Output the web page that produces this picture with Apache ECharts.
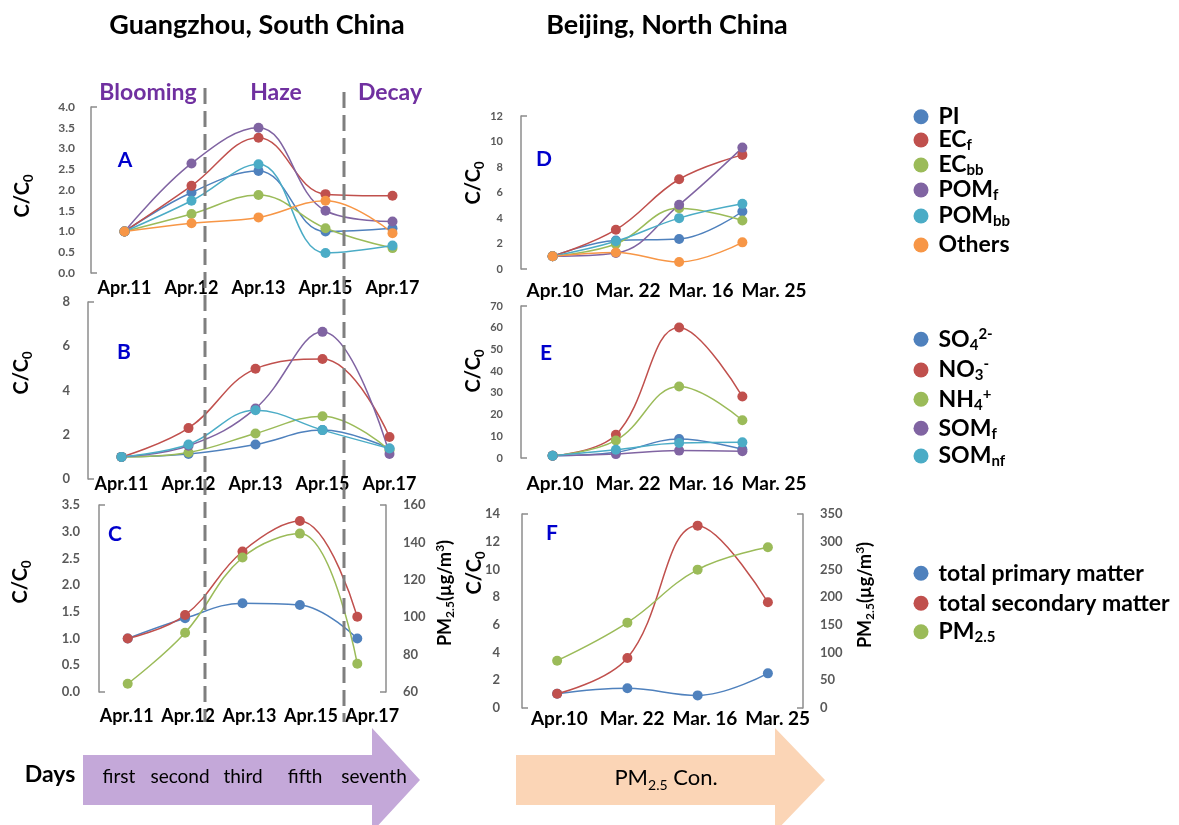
<!DOCTYPE html>
<html><head><meta charset="utf-8">
<script src="https://cdn.jsdelivr.net/npm/echarts@6/dist/echarts.min.js"></script>
<style>html,body{margin:0;padding:0;background:#fff}#c{width:1179px;height:825px}</style>
</head><body><div id="c"></div><script>
// ---------- categories ----------
const catsGZ = ['Apr.11', 'Apr.12', 'Apr.13', 'Apr.15', 'Apr.17'];
const catsBJ = ['Apr.10', 'Mar. 22', 'Mar. 16', 'Mar. 25'];
const dayWords = ['first', 'second', 'third', 'fifth', 'seventh'];

// ---------- Panel A (Guangzhou, primary components, C/C0) ----------
const aPI     = [1.0, 1.94, 2.46, 1.00, 1.08];
const aECf    = [1.0, 2.10, 3.26, 1.90, 1.86];
const aECbb   = [1.0, 1.42, 1.88, 1.08, 0.60];
const aPOMf   = [1.0, 2.64, 3.50, 1.50, 1.24];
const aPOMbb  = [1.0, 1.74, 2.62, 0.48, 0.66];
const aOthers = [1.0, 1.20, 1.34, 1.74, 0.96];

// ---------- Panel B (Guangzhou, secondary components) ----------
const bSO4   = [1.0, 1.13, 1.56, 2.21, 1.38];
const bNO3   = [1.0, 2.30, 4.98, 5.42, 1.90];
const bNH4   = [1.0, 1.20, 2.06, 2.84, 1.30];
const bSOMf  = [1.0, 1.50, 3.19, 6.65, 1.13];
const bSOMnf = [1.0, 1.56, 3.11, 2.21, 1.38];

// ---------- Panel C (Guangzhou totals; PM2.5 on right axis, ug/m3) ----------
const cPrimary   = [1.0, 1.38, 1.66, 1.63, 1.00];
const cSecondary = [1.0, 1.44, 2.63, 3.20, 1.41];
const cPM25      = [64.4, 91.7, 131.9, 144.7, 75.1];

// ---------- Panel D (Beijing, primary components) ----------
const dPI     = [1.0, 2.24, 2.35, 4.51];
const dECf    = [1.0, 3.08, 7.04, 8.95];
const dECbb   = [1.0, 1.96, 4.77, 3.81];
const dPOMf   = [1.0, 1.25, 5.03, 9.52];
const dPOMbb  = [1.0, 2.17, 3.99, 5.11];
const dOthers = [1.0, 1.30, 0.55, 2.09];

// ---------- Panel E (Beijing, secondary components) ----------
const eSO4   = [1.0, 2.6, 8.7, 4.0];
const eNO3   = [1.0, 10.7, 60.1, 28.3];
const eNH4   = [1.0, 8.1, 32.9, 17.4];
const eSOMf  = [1.0, 1.8, 3.4, 3.1];
const eSOMnf = [1.0, 3.8, 6.9, 7.2];

// ---------- Panel F (Beijing totals; PM2.5 on right axis) ----------
const fPrimary   = [1.03, 1.42, 0.91, 2.50];
const fSecondary = [1.03, 3.61, 13.16, 7.63];
const fPM25      = [85.4, 154.0, 249.6, 289.9];

// ---------- legend entries ----------
const legendNames = ['PI','ECf','ECbb','POMf','POMbb','Others',
  'SO42-','NO3-','NH4+','SOMf','SOMnf',
  'total primary matter','total secondary matter','PM2.5'];

// ---------- styling / layout ----------
const FONT = 'Lato, "Open Sans", sans-serif';
const C = {blue:'#4F81BD', red:'#C0504D', green:'#9BBB59', purple:'#8064A2', cyan:'#4BACC6', orange:'#F79646'};
const AXIS_GRAY = '#8c8c8c';
const legendCenterY = [116.7, 140, 165, 190, 216, 245, 339.3, 370, 399.3, 428.3, 456, 573.3, 603.3, 631.7];

const grids = [
  {left:91,  top:107, width:335, height:166}, // 0 A
  {left:88,  top:302, width:335, height:177}, // 1 B
  {left:99,  top:505, width:287, height:187}, // 2 C
  {left:521, top:116, width:253, height:153}, // 3 D
  {left:521, top:306, width:253, height:152}, // 4 E
  {left:522, top:514, width:281, height:194}, // 5 F
  {left:96,  top:505, width:307, height:187}, // 6 C label row
  {left:518.5, top:116, width:292, height:153}, // 7 D label row
  {left:518.5, top:306, width:292, height:152}, // 8 E label row
  {left:523, top:514, width:291, height:194}  // 9 F label row
].map(g => Object.assign({containLabel:false, outerBoundsMode:'none'}, g));

function xAx(gi, cats, margin, fs, showLabel) {
  return {type:'category', gridIndex:gi, data:cats, boundaryGap:true,
    axisLine:{show:false}, axisTick:{show:false}, splitLine:{show:false},
    axisLabel:{show:showLabel !== false, interval:0, margin:margin, color:'#000', fontWeight:'bold', fontSize:fs, fontFamily:FONT}};
}
function yAx(gi, min, max, step, margin, fs, dec, pos) {
  return {type:'value', gridIndex:gi, min:min, max:max, interval:step, position:pos || 'left',
    splitLine:{show:false},
    axisLine:{show:true, lineStyle:{color:AXIS_GRAY, width:1.5}},
    axisTick:{show:true, inside:true, length:6, customValues:[min, max], lineStyle:{color:AXIS_GRAY, width:1.5}},
    axisLabel:{margin:margin, color:'#595959', fontWeight:'bold', fontSize:fs, fontFamily:FONT,
      formatter: v => dec ? v.toFixed(dec) : String(v)}};
}
function yHidden(gi) { return {type:'value', gridIndex:gi, show:false, min:0, max:1}; }

const xAxis = [
  xAx(0, catsGZ, 6, 18),
  xAx(1, catsGZ, -4, 18),
  xAx(2, catsGZ, 15, 18, false),
  xAx(3, catsBJ, 12, 19, false),
  xAx(4, catsBJ, 16, 19, false),
  xAx(5, catsBJ, 1, 19, false),
  xAx(6, catsGZ, 15, 18),
  xAx(7, catsBJ, 12, 19),
  xAx(8, catsBJ, 16, 19),
  xAx(9, catsBJ, 1, 19)
];
const yAxis = [
  yAx(0, 0, 4, 0.5, 16, 12, 1),
  yAx(1, 0, 8, 2, 18, 13, 0),
  yAx(2, 0, 3.5, 0.5, 19, 13, 1),
  yAx(2, 60, 160, 20, 17, 13, 0, 'right'),
  yAx(3, 0, 12, 2, 18, 11, 0),
  yAx(4, 0, 70, 10, 18, 11, 0),
  yAx(5, 0, 14, 2, 22, 13, 0),
  yAx(5, 0, 350, 50, 17, 13, 0, 'right'),
  yHidden(6), yHidden(7), yHidden(8), yHidden(9)
];

function ln(name, data, color, xi, yi) {
  return {type:'line', name:name, data:data, xAxisIndex:xi, yAxisIndex:yi,
    smooth:0.4, symbol:'circle', symbolSize:10, showSymbol:true,
    itemStyle:{color:color}, lineStyle:{color:color, width:1.5},
    emphasis:{disabled:true}, animation:false};
}

const series = [
  ln('PI', aPI, C.blue, 0, 0), ln('ECf', aECf, C.red, 0, 0), ln('ECbb', aECbb, C.green, 0, 0),
  ln('POMf', aPOMf, C.purple, 0, 0), ln('POMbb', aPOMbb, C.cyan, 0, 0), ln('Others', aOthers, C.orange, 0, 0),

  ln('SO42-', bSO4, C.blue, 1, 1), ln('NO3-', bNO3, C.red, 1, 1), ln('NH4+', bNH4, C.green, 1, 1),
  ln('SOMf', bSOMf, C.purple, 1, 1), ln('SOMnf', bSOMnf, C.cyan, 1, 1),

  ln('total primary matter', cPrimary, C.blue, 2, 2), ln('total secondary matter', cSecondary, C.red, 2, 2),
  ln('PM2.5', cPM25, C.green, 2, 3),

  ln('PI', dPI, C.blue, 3, 4), ln('ECf', dECf, C.red, 3, 4), ln('ECbb', dECbb, C.green, 3, 4),
  ln('POMf', dPOMf, C.purple, 3, 4), ln('POMbb', dPOMbb, C.cyan, 3, 4), ln('Others', dOthers, C.orange, 3, 4),

  ln('SO42-', eSO4, C.blue, 4, 5), ln('NO3-', eNO3, C.red, 4, 5), ln('NH4+', eNH4, C.green, 4, 5),
  ln('SOMf', eSOMf, C.purple, 4, 5), ln('SOMnf', eSOMnf, C.cyan, 4, 5),

  ln('total primary matter', fPrimary, C.blue, 5, 6), ln('total secondary matter', fSecondary, C.red, 5, 6),
  ln('PM2.5', fPM25, C.green, 5, 7)
];

// legend rich text
const legendFmt = {
  'PI':'{m|PI}', 'ECf':'{m|EC}{s|f}', 'ECbb':'{m|EC}{s|bb}', 'POMf':'{m|POM}{s|f}', 'POMbb':'{m|POM}{s|bb}', 'Others':'{m|Others}',
  'SO42-':'{m|SO}{s|4}{p|2-}', 'NO3-':'{m|NO}{s|3}{p|-}', 'NH4+':'{m|NH}{s|4}{p|+}', 'SOMf':'{m|SOM}{s|f}', 'SOMnf':'{m|SOM}{s|nf}',
  'total primary matter':'{m|total primary matter}', 'total secondary matter':'{m|total secondary matter}', 'PM2.5':'{m|PM}{s|2.5}'
};
const legRich = {
  g:{width:5, fontSize:10, lineHeight:26, verticalAlign:'middle'},
  m:{fontSize:23, fontWeight:'bold', color:'#000', fontFamily:FONT, lineHeight:26, verticalAlign:'middle'},
  s:{fontSize:15, fontWeight:'bold', color:'#000', fontFamily:FONT, lineHeight:10, verticalAlign:'bottom'},
  p:{fontSize:15, fontWeight:'bold', color:'#000', fontFamily:FONT, lineHeight:12, verticalAlign:'top'}
};
const legend = legendNames.map((n, i) => ({
  orient:'vertical', left:913.5, top:legendCenterY[i] - 13, icon:'circle', itemWidth:15, itemHeight:15,
  padding:0, itemGap:0, selectedMode:false, data:[n],
  formatter: nm => '{g| }' + legendFmt[nm],
  textStyle:{lineHeight:26, rich:legRich}
}));

// ---------- graphics: annotations ----------
function txt(x, y, text, fs, color, weight, extra) {
  return Object.assign({type:'text', x:x, y:y, silent:true,
    style:{text:text, fill:color, fontSize:fs, fontWeight:weight || 'bold', fontFamily:FONT, align:'center', verticalAlign:'middle'}}, extra || {});
}
function ccLabel(x, y) {
  return {type:'text', x:x, y:y, rotation:Math.PI/2, silent:true,
    style:{text:'{m|C/C}{s|0}', align:'center', verticalAlign:'middle',
      rich:{m:{fill:'#000', fontSize:20, fontWeight:'bold', fontFamily:FONT, lineHeight:24, verticalAlign:'middle'},
            s:{fill:'#000', fontSize:13, fontWeight:'bold', fontFamily:FONT, lineHeight:10, verticalAlign:'bottom'}}}};
}
function pmLabel(x, y) {
  return {type:'text', x:x, y:y, rotation:Math.PI/2, silent:true,
    style:{text:'{m|PM}{s|2.5}{m|(µg/m}{p|3}{m|)}', align:'center', verticalAlign:'middle',
      rich:{m:{fill:'#000', fontSize:18, fontWeight:'bold', fontFamily:FONT, lineHeight:22, verticalAlign:'middle'},
            s:{fill:'#000', fontSize:12, fontWeight:'bold', fontFamily:FONT, lineHeight:9, verticalAlign:'bottom'},
            p:{fill:'#000', fontSize:12, fontWeight:'bold', fontFamily:FONT, lineHeight:10, verticalAlign:'top'}}}};
}
function dash(x, y1, y2) {
  return {type:'line', silent:true, z:10, shape:{x1:x, y1:y1, x2:x, y2:y2},
    style:{stroke:'#7f7f7f', lineWidth:3, lineDash:[16, 7]}};
}
function arrow(x0, x1, xt, fill) {
  return {type:'polygon', silent:true, z:-1,
    shape:{points:[[x0,755],[x1,755],[x1,728],[xt,780],[x1,832],[x1,805],[x0,805]]},
    style:{fill:fill}};
}

const dayX = [119, 180, 243, 305, 374];
const graphic = [
  txt(257, 25, 'Guangzhou, South China', 27, '#000'),
  txt(667, 25, 'Beijing, North China', 27, '#000'),
  txt(148, 93, 'Blooming', 23, '#7030A0'),
  txt(276, 93, 'Haze', 23, '#7030A0'),
  txt(390, 93, 'Decay', 23, '#7030A0'),
  dash(205, 88, 722),
  dash(344, 92, 722),
  txt(125, 160, 'A', 21, '#0000CC'),
  txt(124, 352, 'B', 21, '#0000CC'),
  txt(115, 534, 'C', 21, '#0000CC'),
  txt(544, 159, 'D', 21, '#0000CC'),
  txt(546, 353, 'E', 21, '#0000CC'),
  txt(552, 533, 'F', 21, '#0000CC'),
  ccLabel(23, 196), ccLabel(22, 373), ccLabel(21, 582),
  ccLabel(474, 183), ccLabel(474, 371), ccLabel(475, 573),
  pmLabel(445, 593), pmLabel(865, 595),
  arrow(83, 372, 420, '#C4A8D9'),
  arrow(516, 775, 825, '#FBD5B6'),
  txt(50, 775, 'Days', 23, '#000', 'bold'),
  {type:'text', x:666, y:778, silent:true,
    style:{text:'{m|PM}{s|2.5}{m| Con.}', align:'center', verticalAlign:'middle',
      rich:{m:{fill:'#000', fontSize:22, fontFamily:FONT, lineHeight:28, verticalAlign:'middle'},
            s:{fill:'#000', fontSize:14, fontFamily:FONT, lineHeight:10, verticalAlign:'bottom'}}}}
].concat(dayWords.map((w, i) => txt(dayX[i], 777, w, 19, '#000', 'normal')));

const chart = echarts.init(document.getElementById('c'), null, {renderer:'canvas'});
chart.setOption({
  backgroundColor:'#fff',
  animation:false,
  textStyle:{fontFamily:FONT},
  grid:grids, xAxis:xAxis, yAxis:yAxis, series:series, legend:legend, graphic:graphic
});
</script></body></html>
